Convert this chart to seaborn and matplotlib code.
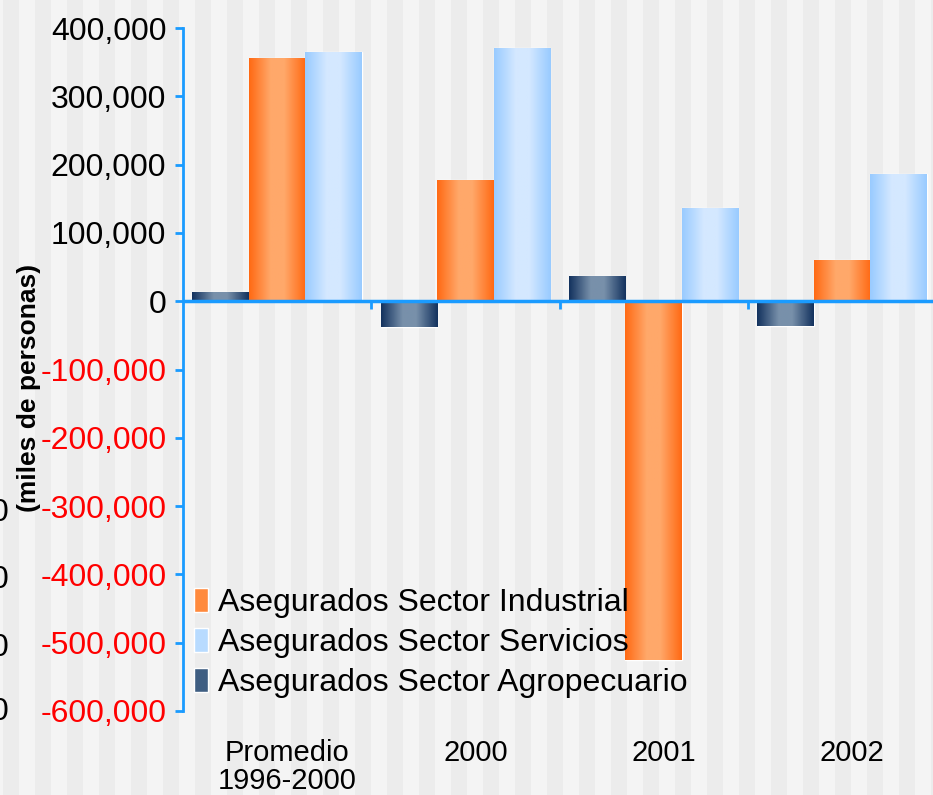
import numpy as np
import pandas as pd
import seaborn as sns
import matplotlib.pyplot as plt
from matplotlib.colors import LinearSegmentedColormap, to_rgb
from matplotlib.transforms import ScaledTranslation

# Datos (miles de personas)
categorias = ["Promedio\n1996-2000", "2000", "2001", "2002"]
sectores = ["Asegurados Sector Agropecuario", "Asegurados Sector Industrial",
            "Asegurados Sector Servicios"]
agropecuario = [13000, -38000, 37000, -36000]
industrial = [356000, 178000, -526000, 61000]
servicios = [365000, 371000, 137000, 186000]
yticks = [400000, 300000, 200000, 100000, 0, -100000, -200000, -300000,
          -400000, -500000, -600000]

df = pd.DataFrame({
    "categoria": categorias * 3,
    "sector": [s for s in sectores for _ in categorias],
    "valor": agropecuario + industrial + servicios,
})

sns.set_theme(style="white")
plt.rcParams["font.family"] = ["Liberation Sans", "DejaVu Sans"]
plt.rcParams["text.color"] = "black"
plt.rcParams["xtick.color"] = "black"
plt.rcParams["ytick.color"] = "black"

azul = "#1A9BFF"
paleta = {sectores[0]: "#3F5E82", sectores[1]: "#FF8A3D", sectores[2]: "#B8DBFF"}
degradados = {
    sectores[0]: ["#14335F", "#7890AA", "#7890AA", "#14335F"],
    sectores[1]: ["#FF6A14", "#FFA86A", "#FFA86A", "#FF6A14"],
    sectores[2]: ["#99CBFF", "#D4E8FF", "#D4E8FF", "#99CBFF"],
}

fig = plt.figure(figsize=(9.33, 7.95), dpi=100)
fig.patch.set_facecolor("#F4F4F4")

# fondo a franjas verticales
bg = fig.add_axes([0, 0, 1, 1], zorder=-10)
bg.set_xlim(0, 933)
bg.set_ylim(0, 795)
for x0 in np.arange(3, 933, 32):
    bg.axvspan(x0, x0 + 16, color="#ECECEC", lw=0)
bg.axis("off")

ax = fig.add_axes([183 / 933, 84 / 795, 753 / 933, 683 / 795])
ax.set_facecolor("none")

sns.barplot(data=df, x="categoria", y="valor", hue="sector", order=categorias,
            hue_order=sectores, palette=paleta, width=0.9, ax=ax,
            saturation=1, errorbar=None)

# degradado horizontal dentro de cada barra
color_a_sector = {to_rgb(c): s for s, c in paleta.items()}
for p in list(ax.patches):
    rgb = p.get_facecolor()[:3]
    sec = None
    for k, s in color_a_sector.items():
        if np.allclose(k, rgb, atol=0.01):
            sec = s
    if sec is None or p.get_height() == 0:
        continue
    cmap = LinearSegmentedColormap.from_list(sec, list(zip([0, 0.38, 0.62, 1], degradados[sec])))
    x, y = p.get_x(), p.get_y()
    w, h = p.get_width(), p.get_height()
    im = ax.imshow(np.linspace(0, 1, 64).reshape(1, -1), cmap=cmap, aspect="auto",
                   extent=[x, x + w, y, y + h], zorder=p.get_zorder() + 0.1,
                   interpolation="bilinear")
    im.set_clip_path(p)

ax.set_xlim(-0.5, 3.5)
ax.set_ylim(-600000, 400000)

# ejes
for s in ["top", "right", "bottom"]:
    ax.spines[s].set_visible(False)
ax.spines["left"].set_color(azul)
ax.spines["left"].set_linewidth(2)
ax.axhline(0, color=azul, lw=2.5, zorder=5)
ax.vlines([0.5, 1.5, 2.5], -12000, 0, color=azul, lw=2, zorder=5)

ax.set_yticks(yticks)
ax.set_yticklabels([f"{v:,}" for v in yticks])
ax.tick_params(axis="y", direction="out", length=6, width=2, color=azul,
               labelsize=23, pad=6, left=True)
for lbl, v in zip(ax.get_yticklabels(), yticks):
    lbl.set_color("red" if v < 0 else "black")

ax.set_xticks(range(len(categorias)))
ax.set_xticklabels(categorias, fontsize=21, linespacing=1.0, color="black")
ax.tick_params(axis="x", length=0, pad=20)
for lbl in ax.get_xticklabels():
    lbl.set_transform(lbl.get_transform() + ScaledTranslation(0.1, 0, fig.dpi_scale_trans))
ax.set_xlabel("")
ax.set_ylabel("")

fig.text(29 / 933, 1 - 388 / 795, "(miles de personas)", rotation=90,
         ha="center", va="center", fontsize=19, fontweight="bold", color="black")

# etiquetas recortadas del borde izquierdo
for yy in [513, 580, 648, 712]:
    fig.text(8 / 933, 1 - yy / 795, "0", ha="right", va="center", fontsize=23,
             color="black")

# leyenda
h, l = ax.get_legend_handles_labels()
orden = [1, 2, 0]
leg = ax.legend([h[i] for i in orden], [l[i] for i in orden],
                loc="upper left", bbox_to_anchor=(194 / 933, 1 - 588 / 795),
                bbox_transform=fig.transFigure, frameon=False, fontsize=23,
                handlelength=0.45, handleheight=0.8, handletextpad=0.3,
                labelspacing=0.3, borderaxespad=0, borderpad=0)
for t in leg.get_texts():
    t.set_color("black")

fig.savefig("out.png", dpi=100)
